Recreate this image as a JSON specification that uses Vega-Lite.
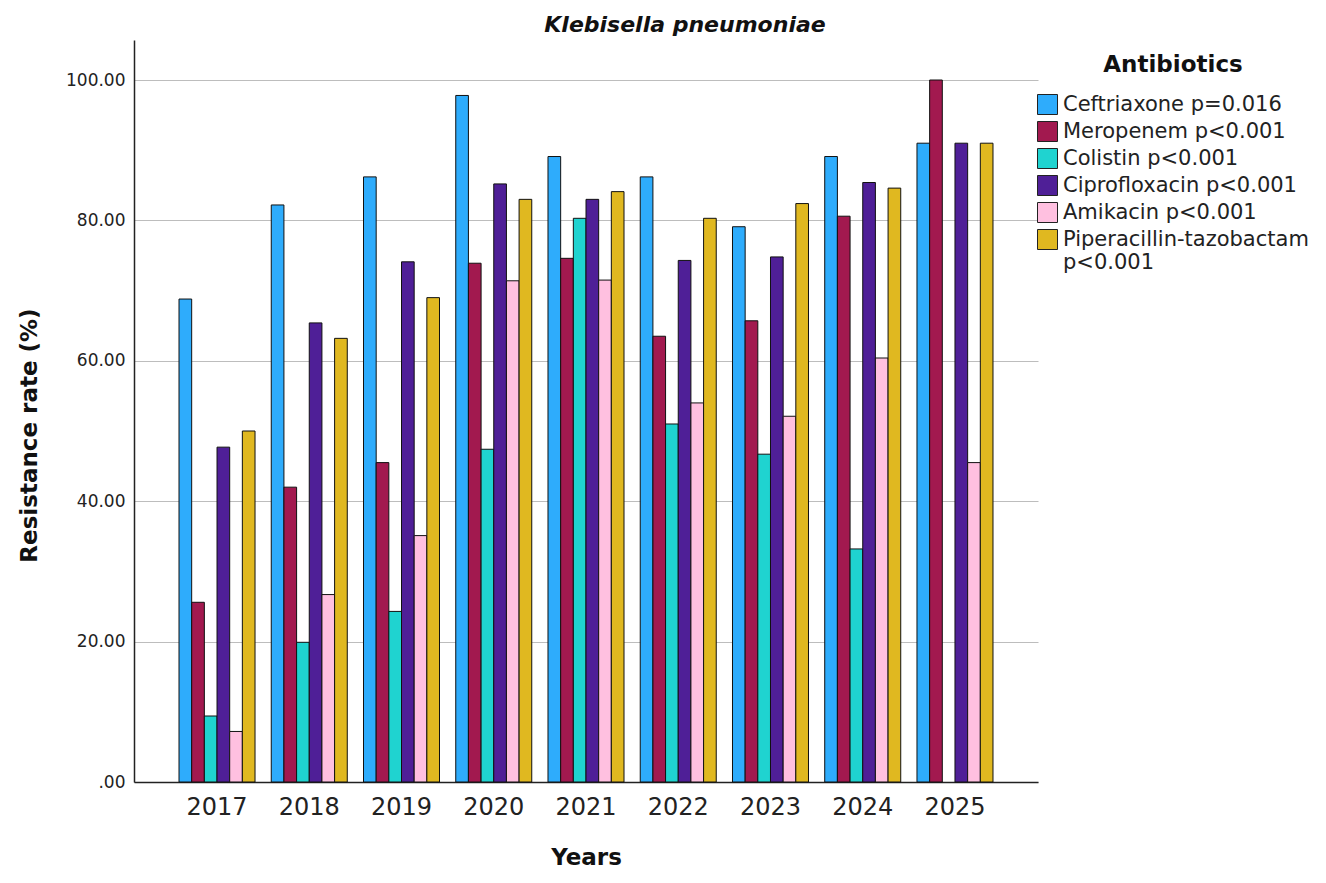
{
  "$schema": "https://vega.github.io/schema/vega-lite/v6.json",
  "width": 904,
  "height": 742,
  "autosize": {"type": "none"},
  "padding": {"left": 134, "top": 40, "right": 288, "bottom": 101},
  "background": "white",
  "title": {
    "text": "Klebisella pneumoniae",
    "font": "DejaVu Sans",
    "fontSize": 22,
    "fontWeight": "bold",
    "fontStyle": "italic",
    "color": "#111",
    "anchor": "middle",
    "baseline": "alphabetic",
    "dx": 99,
    "dy": 21,
    "offset": 7
  },
  "config": {
    "view": {"stroke": null},
    "font": "DejaVu Sans",
    "axis": {"labelColor": "#222", "titleColor": "#111", "domainColor": "#222", "domainWidth": 1.5}
  },
  "data": {
    "values": [
      {"year": "2017", "drug": "Ceftriaxone p=0.016", "rate": 68.8},
      {"year": "2017", "drug": "Meropenem p<0.001", "rate": 25.6},
      {"year": "2017", "drug": "Colistin p<0.001", "rate": 9.4},
      {"year": "2017", "drug": "Ciprofloxacin p<0.001", "rate": 47.7},
      {"year": "2017", "drug": "Amikacin p<0.001", "rate": 7.2},
      {"year": "2017", "drug": "Piperacillin-tazobactam p<0.001", "rate": 50.0},
      {"year": "2018", "drug": "Ceftriaxone p=0.016", "rate": 82.2},
      {"year": "2018", "drug": "Meropenem p<0.001", "rate": 42.0},
      {"year": "2018", "drug": "Colistin p<0.001", "rate": 19.9},
      {"year": "2018", "drug": "Ciprofloxacin p<0.001", "rate": 65.4},
      {"year": "2018", "drug": "Amikacin p<0.001", "rate": 26.7},
      {"year": "2018", "drug": "Piperacillin-tazobactam p<0.001", "rate": 63.2},
      {"year": "2019", "drug": "Ceftriaxone p=0.016", "rate": 86.2},
      {"year": "2019", "drug": "Meropenem p<0.001", "rate": 45.5},
      {"year": "2019", "drug": "Colistin p<0.001", "rate": 24.3},
      {"year": "2019", "drug": "Ciprofloxacin p<0.001", "rate": 74.1},
      {"year": "2019", "drug": "Amikacin p<0.001", "rate": 35.1},
      {"year": "2019", "drug": "Piperacillin-tazobactam p<0.001", "rate": 69.0},
      {"year": "2020", "drug": "Ceftriaxone p=0.016", "rate": 97.8},
      {"year": "2020", "drug": "Meropenem p<0.001", "rate": 73.9},
      {"year": "2020", "drug": "Colistin p<0.001", "rate": 47.4},
      {"year": "2020", "drug": "Ciprofloxacin p<0.001", "rate": 85.2},
      {"year": "2020", "drug": "Amikacin p<0.001", "rate": 71.4},
      {"year": "2020", "drug": "Piperacillin-tazobactam p<0.001", "rate": 83.0},
      {"year": "2021", "drug": "Ceftriaxone p=0.016", "rate": 89.1},
      {"year": "2021", "drug": "Meropenem p<0.001", "rate": 74.6},
      {"year": "2021", "drug": "Colistin p<0.001", "rate": 80.3},
      {"year": "2021", "drug": "Ciprofloxacin p<0.001", "rate": 83.0},
      {"year": "2021", "drug": "Amikacin p<0.001", "rate": 71.5},
      {"year": "2021", "drug": "Piperacillin-tazobactam p<0.001", "rate": 84.1},
      {"year": "2022", "drug": "Ceftriaxone p=0.016", "rate": 86.2},
      {"year": "2022", "drug": "Meropenem p<0.001", "rate": 63.5},
      {"year": "2022", "drug": "Colistin p<0.001", "rate": 51.0},
      {"year": "2022", "drug": "Ciprofloxacin p<0.001", "rate": 74.3},
      {"year": "2022", "drug": "Amikacin p<0.001", "rate": 54.0},
      {"year": "2022", "drug": "Piperacillin-tazobactam p<0.001", "rate": 80.3},
      {"year": "2023", "drug": "Ceftriaxone p=0.016", "rate": 79.1},
      {"year": "2023", "drug": "Meropenem p<0.001", "rate": 65.7},
      {"year": "2023", "drug": "Colistin p<0.001", "rate": 46.7},
      {"year": "2023", "drug": "Ciprofloxacin p<0.001", "rate": 74.8},
      {"year": "2023", "drug": "Amikacin p<0.001", "rate": 52.1},
      {"year": "2023", "drug": "Piperacillin-tazobactam p<0.001", "rate": 82.4},
      {"year": "2024", "drug": "Ceftriaxone p=0.016", "rate": 89.1},
      {"year": "2024", "drug": "Meropenem p<0.001", "rate": 80.6},
      {"year": "2024", "drug": "Colistin p<0.001", "rate": 33.2},
      {"year": "2024", "drug": "Ciprofloxacin p<0.001", "rate": 85.4},
      {"year": "2024", "drug": "Amikacin p<0.001", "rate": 60.4},
      {"year": "2024", "drug": "Piperacillin-tazobactam p<0.001", "rate": 84.6},
      {"year": "2025", "drug": "Ceftriaxone p=0.016", "rate": 91.0},
      {"year": "2025", "drug": "Meropenem p<0.001", "rate": 100.0},
      {"year": "2025", "drug": "Ciprofloxacin p<0.001", "rate": 91.0},
      {"year": "2025", "drug": "Amikacin p<0.001", "rate": 45.5},
      {"year": "2025", "drug": "Piperacillin-tazobactam p<0.001", "rate": 91.0}
    ]
  },
  "mark": {"type": "bar", "stroke": "#111", "strokeWidth": 1},
  "encoding": {
    "x": {
      "field": "year",
      "type": "nominal",
      "scale": {"paddingInner": 0.176, "paddingOuter": 0.488},
      "axis": {
        "title": "Years",
        "titleFontSize": 23,
        "titleFontWeight": "bold",
        "titlePadding": 27,
        "labelFontSize": 24,
        "labelAngle": 0,
        "labelPadding": 13,
        "ticks": false
      }
    },
    "xOffset": {
      "field": "drug",
      "type": "nominal",
      "scale": {"paddingInner": 0, "paddingOuter": 0},
      "sort": ["Ceftriaxone p=0.016", "Meropenem p<0.001", "Colistin p<0.001", "Ciprofloxacin p<0.001", "Amikacin p<0.001", "Piperacillin-tazobactam p<0.001"]
    },
    "y": {
      "field": "rate",
      "type": "quantitative",
      "scale": {"domain": [0, 105.7], "nice": false, "zero": true},
      "axis": {
        "title": "Resistance rate (%)",
        "titleFontSize": 23,
        "titleFontWeight": "bold",
        "titleAngle": -90,
        "titleAlign": "center",
        "titleBaseline": "alphabetic",
        "titleX": -98,
        "titleY": 395,
        "values": [0, 20, 40, 60, 80, 100],
        "labelExpr": "datum.value == 0 ? '.00' : format(datum.value, '.2f')",
        "labelFontSize": 17,
        "labelPadding": 9,
        "ticks": false,
        "grid": true,
        "gridColor": "#bdbdbd",
        "gridWidth": 1.2
      }
    },
    "color": {
      "field": "drug",
      "type": "nominal",
      "scale": {
        "domain": ["Ceftriaxone p=0.016", "Meropenem p<0.001", "Colistin p<0.001", "Ciprofloxacin p<0.001", "Amikacin p<0.001", "Piperacillin-tazobactam p<0.001"],
        "range": ["#2eacfc", "#a2194f", "#1fd3d0", "#4f1f97", "#ffc0e0", "#e0b820"]
      },
      "legend": {
        "title": "Antibiotics",
        "orient": "none",
        "legendX": 903,
        "legendY": 14,
        "padding": 0,
        "titleFontSize": 23,
        "titleFontWeight": "bold",
        "titleColor": "#111",
        "titleAnchor": "middle",
        "titlePadding": 17,
        "symbolType": "square",
        "symbolSize": 400,
        "symbolStrokeColor": "#222",
        "symbolStrokeWidth": 1,
        "labelFontSize": 21,
        "labelColor": "#222",
        "labelOffset": 5,
        "labelLimit": 400,
        "rowPadding": 2,
        "labelExpr": "datum.label == 'Piperacillin-tazobactam p<0.001' ? ['Piperacillin-tazobactam', 'p<0.001'] : datum.label"
      }
    }
  }
}
